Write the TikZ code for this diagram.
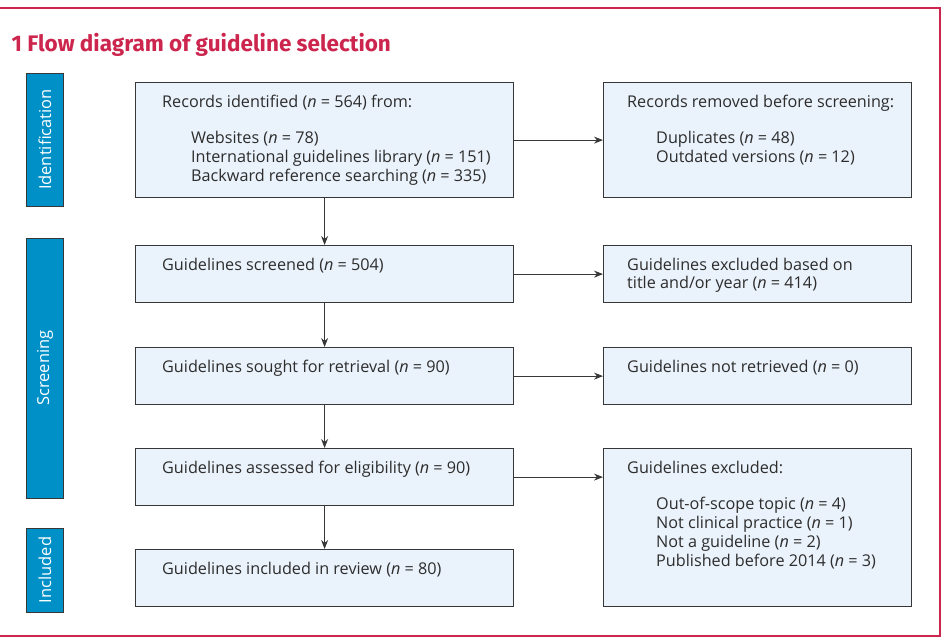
\documentclass[tikz,border=0pt]{standalone}
\usepackage{fontspec}
\setmainfont{Open Sans}
\newfontfamily\titlefont{Fira Sans}
\usetikzlibrary{arrows.meta}
\definecolor{mjared}{RGB}{204,38,78}
\definecolor{stageblue}{RGB}{0,144,200}
\definecolor{boxfill}{RGB}{234,242,251}
\definecolor{boxline}{RGB}{55,55,55}
\definecolor{txtgray}{RGB}{45,45,45}
\newcommand{\nn}{\textit{n}}
\newcommand{\inset}{\hspace*{29pt}}

\begin{document}
\begin{tikzpicture}[x=1pt, y=-1pt]
    \tikzstyle{frame} = [mjared, line width=1.5pt]
    \tikzstyle{stage} = [rectangle, draw=boxline, fill=stageblue, line width=1pt, minimum height=37pt, inner sep=0pt, rotate=90, text=white, font=\fontsize{16.5}{18}\selectfont]
    \tikzstyle{proc} = [rectangle, draw=boxline, fill=boxfill, line width=1.2pt, anchor=north west, inner sep=0pt]
    \tikzstyle{txt} = [anchor=north west, align=left, inner sep=0pt, text=txtgray, font=\fontsize{16.2}{18.8}\selectfont]
    \tikzstyle{arrow} = [line width=1pt, boxline, -{Stealth[length=9pt, width=7pt]}]
    \useasboundingbox (0,0) rectangle (944,643);
    \draw[frame] (-5,8) -- (940,8) -- (940,636) -- (-5,636);
    \node (title) [anchor=base west, text=mjared, font=\titlefont\bfseries\fontsize{22.5}{26}\selectfont] at (8,51) {1 Flow diagram of guideline selection};
    % stages
    \node (identification) [stage, minimum width=133pt] at (45,139.5) {Identification};
    \node (screening) [stage, minimum width=260pt] at (45,368) {Screening};
    \node (included) [stage, minimum width=84pt] at (45,570) {Included};
    % main column
    \node (ident) [proc, minimum width=378pt, minimum height=115pt] at (135,82) {};
    \node (screen) [proc, minimum width=378pt, minimum height=57pt] at (135,245) {};
    \node (sought) [proc, minimum width=378pt, minimum height=57pt] at (135,347) {};
    \node (assess) [proc, minimum width=378pt, minimum height=57pt] at (135,448) {};
    \node (incl) [proc, minimum width=378pt, minimum height=57pt] at (135,549) {};
    % side column
    \node (removed) [proc, minimum width=308pt, minimum height=115pt] at (603,82) {};
    \node (exclscreen) [proc, minimum width=308pt, minimum height=57pt] at (603,245) {};
    \node (notretr) [proc, minimum width=308pt, minimum height=57pt] at (603,347) {};
    \node (excl) [proc, minimum width=308pt, minimum height=158pt] at (603,448) {};
    % texts
    \node (ident-t) [txt] at ([shift={(27pt,-12.5pt)}]ident.north west) {Records identified (\nn{} = 564) from:\\[18pt]\inset Websites (\nn{} = 78)\\\inset International guidelines library (\nn{} = 151)\\\inset Backward reference searching (\nn{} = 335)};
    \node (screen-t) [txt] at ([shift={(27pt,-12.5pt)}]screen.north west) {Guidelines screened (\nn{} = 504)};
    \node (sought-t) [txt] at ([shift={(27pt,-12.5pt)}]sought.north west) {Guidelines sought for retrieval (\nn{} = 90)};
    \node (assess-t) [txt] at ([shift={(27pt,-12.5pt)}]assess.north west) {Guidelines assessed for eligibility (\nn{} = 90)};
    \node (incl-t) [txt] at ([shift={(27pt,-12.5pt)}]incl.north west) {Guidelines included in review (\nn{} = 80)};
    \node (removed-t) [txt] at ([shift={(24pt,-12.5pt)}]removed.north west) {Records removed before screening:\\[18pt]\inset Duplicates (\nn{} = 48)\\\inset Outdated versions (\nn{} = 12)};
    \node (exclscreen-t) [txt] at ([shift={(24pt,-12.5pt)}]exclscreen.north west) {Guidelines excluded based on\\title and/or year (\nn{} = 414)};
    \node (notretr-t) [txt] at ([shift={(24pt,-12.5pt)}]notretr.north west) {Guidelines not retrieved (\nn{} = 0)};
    \node (excl-t) [txt] at ([shift={(24pt,-12.5pt)}]excl.north west) {Guidelines excluded:\\[18pt]\inset Out-of-scope topic (\nn{} = 4)\\\inset Not clinical practice (\nn{} = 1)\\\inset Not a guideline (\nn{} = 2)\\\inset Published before 2014 (\nn{} = 3)};
    % arrows
    \draw[arrow] (ident) -- (screen);
    \draw[arrow] (screen) -- (sought);
    \draw[arrow] (sought) -- (assess);
    \draw[arrow] (assess) -- (incl);
    \draw[arrow] (ident) -- (removed);
    \draw[arrow] (screen) -- (exclscreen);
    \draw[arrow] (sought) -- (notretr);
    \draw[arrow] (assess.east) -- (assess.east -| excl.west);
\end{tikzpicture}
\end{document}
